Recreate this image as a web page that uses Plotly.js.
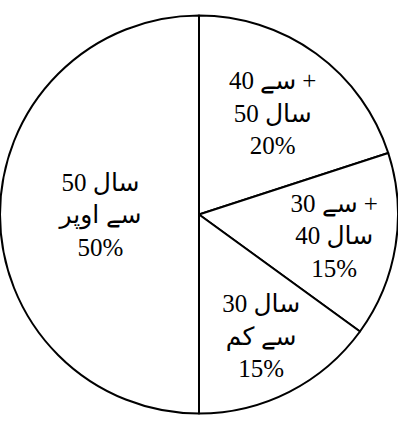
<!DOCTYPE html>
<html>
<head>
<meta charset="utf-8">
<script src="https://cdn.plot.ly/plotly-3.0.1.min.js"></script>
<style>
  html, body { margin: 0; padding: 0; background: #fff; }
</style>
</head>
<body>
<div id="myPlot"></div>
<script>
/**
 * Data
 */
const groups = ["40+ سے 50 سال", "30+ سے 40 سال", "30 سال سے کم", "50 سال سے اوپر"];
const shares = [20, 15, 15, 50];
const lineOne = ["سے 40 +", "سے 30 +", "سال 30", "سال 50"];
const lineTwo = ["سال 50", "سال 40", "سے کم", "سے اوپر"];

const myPlot = document.getElementById("myPlot");

const texts = groups.map((g, i) =>
  lineOne[i] + "<br>" + lineTwo[i] + "<br>" + shares[i] + "%"
);

const data = [
  {
    type: "pie",
    labels: groups,
    values: shares,
    text: texts,
    textinfo: "text",
    textposition: "inside",
    insidetextorientation: "horizontal",
    sort: false,
    direction: "clockwise",
    rotation: 0,
    marker: {
      colors: ["#ffffff", "#ffffff", "#ffffff", "#ffffff"],
      line: { color: "#000000", width: 2 }
    },
    textfont: { family: "Liberation Serif, DejaVu Sans, serif", size: 25, color: "#000000" },
    domain: { x: [0, 1], y: [0, 1] }
  }
];

/**
 * Layout
 */
const layout = {
  width: 398,
  height: 429,
  margin: { l: 0, r: 0, t: 0, b: 0 },
  showlegend: false,
  uniformtext: { mode: "show", minsize: 25 },
  paper_bgcolor: "#ffffff"
};

Plotly.newPlot(myPlot, data, layout, { displayModeBar: false, staticPlot: true });
</script>
</body>
</html>
